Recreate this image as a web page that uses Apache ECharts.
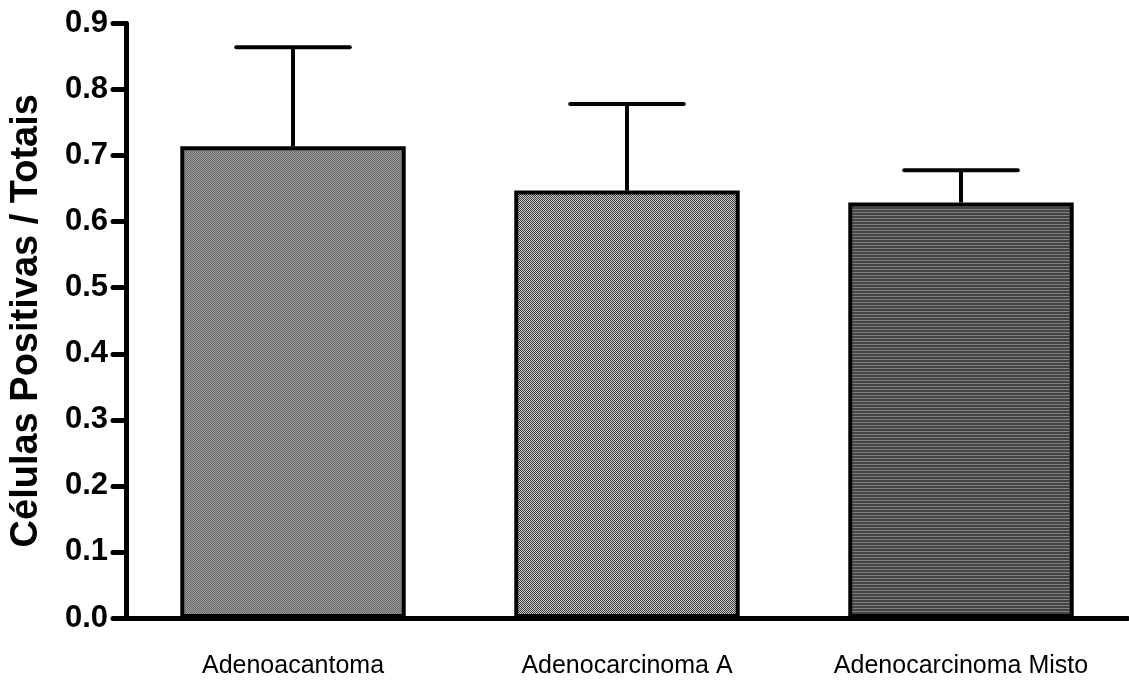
<!DOCTYPE html>
<html><head><meta charset="utf-8">
<script src="https://cdn.jsdelivr.net/npm/echarts@6/dist/echarts.min.js"></script>
<style>html,body{margin:0;padding:0;background:#fff}#c{width:1129px;height:681px}</style>
</head><body><div id="c"></div>
<script>
var categories = ['Adenoacantoma', 'Adenocarcinoma A', 'Adenocarcinoma Misto'];
var means = [0.714, 0.647, 0.629];
var upperErrors = [0.864, 0.778, 0.678];
var yTicks = ['0.0','0.1','0.2','0.3','0.4','0.5','0.6','0.7','0.8','0.9'];

function makePattern(type) {
  var c = document.createElement('canvas');
  var ctx = c.getContext('2d');
  if (type === 0) {
    c.width = 2; c.height = 2;
    ctx.fillStyle = '#9a9a9a'; ctx.fillRect(0,0,2,2);
    ctx.fillStyle = '#6a6a6a'; ctx.fillRect(0,0,1,1); ctx.fillRect(1,1,1,1);
  } else if (type === 1) {
    c.width = 2; c.height = 2;
    ctx.fillStyle = '#cccccc'; ctx.fillRect(0,0,2,2);
    ctx.fillStyle = '#3c3c3c'; ctx.fillRect(0,0,1,1); ctx.fillRect(1,1,1,1);
  } else {
    c.width = 1; c.height = 3;
    ctx.fillStyle = '#444444'; ctx.fillRect(0,0,1,3);
    ctx.fillStyle = '#808080'; ctx.fillRect(0,2,1,1);
  }
  return c;
}

var barData = means.map(function (v, i) {
  return { value: v, itemStyle: { color: { image: makePattern(i), repeat: 'repeat' } } };
});
var errData = means.map(function (v, i) { return [i, v, upperErrors[i]]; });

var chart = echarts.init(document.getElementById('c'));
chart.setOption({
  animation: false,
  grid: { left: 126, right: 1, top: 23.5, bottom: 63, containLabel: false },
  xAxis: {
    type: 'category', data: categories,
    axisLine: { lineStyle: { color: '#000', width: 5 } },
    axisTick: { show: false },
    axisLabel: { color: '#000', fontFamily: 'Liberation Sans, Arial, sans-serif', fontSize: 25, margin: 36 }
  },
  yAxis: {
    type: 'value', min: 0, max: 0.9, interval: 0.1,
    name: 'Células Positivas / Totais', nameLocation: 'middle', nameGap: 80,
    nameTextStyle: { color: '#000', fontFamily: 'Liberation Sans, Arial, sans-serif', fontWeight: 'bold', fontSize: 38 },
    axisLine: { show: true, lineStyle: { color: '#000', width: 5 } },
    axisTick: { show: true, length: 13, lineStyle: { color: '#000', width: 5, cap: 'round' } },
    axisLabel: { color: '#000', fontFamily: 'Liberation Sans, Arial, sans-serif', fontWeight: 'bold', fontSize: 31, margin: 18,
      formatter: function (v) { return yTicks[Math.round(v * 10)]; } },
    splitLine: { show: false }
  },
  series: [
    {
      type: 'custom', z: 1,
      data: errData,
      renderItem: function (params, api) {
        var x = api.value(0);
        var base = api.coord([x, api.value(1)]);
        var top = api.coord([x, api.value(2)]);
        var bw = api.size([1, 0])[0] * 0.34;
        return { type: 'group', children: [
          { type: 'line', shape: { x1: base[0], y1: base[1], x2: top[0], y2: top[1] }, style: { stroke: '#000', lineWidth: 4 } },
          { type: 'line', shape: { x1: top[0] - bw / 2, y1: top[1], x2: top[0] + bw / 2, y2: top[1] }, style: { stroke: '#000', lineWidth: 4, lineCap: 'round' } }
        ] };
      }
    },
    {
      type: 'bar', z: 2, data: barData, barWidth: '67.5%',
      itemStyle: { borderColor: '#000', borderWidth: 4 }
    }
  ]
});
</script></body></html>
